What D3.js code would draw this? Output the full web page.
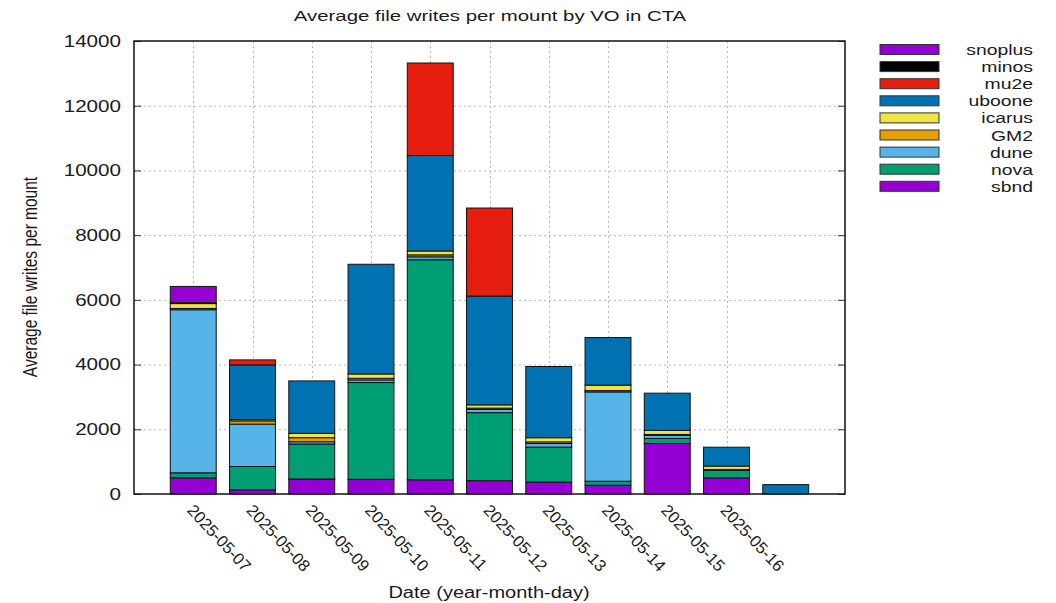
<!DOCTYPE html>
<html>
<head>
<meta charset="utf-8">
<script src="https://cdn.jsdelivr.net/npm/d3@7"></script>
<style>
  body { margin: 0; background: #ffffff; }
  text { font-family: "Liberation Sans", Arial, Helvetica, sans-serif; fill: #1a1a1a; }
</style>
</head>
<body>
<svg id="chart" width="1056" height="603"></svg>
<script>
// Dates shown under the first ten bars
const tickLabels = ["2025-05-07", "2025-05-08", "2025-05-09", "2025-05-10", "2025-05-11",
                    "2025-05-12", "2025-05-13", "2025-05-14", "2025-05-15", "2025-05-16"];

// Average file writes per mount, one value per bar (11 bars), per VO
const sbnd    = [500, 130, 465, 455, 440, 414, 370, 270, 1560, 500, 0];
const nova    = [155, 720, 1080, 2990, 6800, 2100, 1080, 125, 156, 229, 0];
const dune    = [5040, 1310, 70, 80, 90, 100, 110, 2760, 95, 0, 0];
const gm2     = [40, 100, 125, 50, 60, 40, 50, 40, 30, 30, 0];
const icarus  = [150, 40, 135, 135, 120, 100, 130, 170, 125, 104, 0];
const uboone  = [0, 1690, 1620, 3390, 2950, 3363, 2200, 1470, 1150, 583, 290];
const mu2e    = [0, 155, 0, 0, 2860, 2721, 0, 0, 0, 0, 0];
const minos   = [30, 0, 0, 0, 0, 0, 0, 0, 0, 0, 0];
const snoplus = [500, 0, 0, 0, 0, 0, 0, 0, 0, 0, 0];

// Stack order, bottom to top
const seriesNames  = ["sbnd", "nova", "dune", "GM2", "icarus", "uboone", "mu2e", "minos", "snoplus"];
const seriesValues = [sbnd, nova, dune, gm2, icarus, uboone, mu2e, minos, snoplus];
const seriesColors = ["#9400d3", "#009e73", "#56b4e9", "#e69f00", "#f0e442", "#0072b2", "#e51e10", "#000000", "#9400d3"];

const yTicks = [0, 2000, 4000, 6000, 8000, 10000, 12000, 14000];

const plot = { left: 134, right: 845, top: 41, bottom: 494 };
const WIDE = 1.25; // horizontal stretch applied to upright text

const svg = d3.select("#chart");

const x = d3.scaleLinear().domain([-1, 11]).range([plot.left, plot.right]);
const y = d3.scaleLinear().domain([0, 14000]).range([plot.bottom, plot.top]);
const barW = (x(1) - x(0)) * 0.775;

// rows for d3.stack
const rows = sbnd.map((_, i) => {
  const r = { idx: i };
  seriesNames.forEach((n, k) => { r[n] = seriesValues[k][i]; });
  return r;
});
const stacked = d3.stack().keys(seriesNames)(rows);

// grid lines
const grid = svg.append("g").attr("stroke", "#b8b8b8").attr("stroke-width", 1)
  .attr("stroke-dasharray", "2,3");
grid.selectAll("line.h").data(yTicks.filter(v => v > 0 && v < 14000)).join("line")
  .attr("x1", plot.left).attr("x2", plot.right)
  .attr("y1", d => y(d) + 0.5).attr("y2", d => y(d) + 0.5);
grid.selectAll("line.v").data(tickLabels.map((_, i) => i)).join("line")
  .attr("x1", d => Math.round(x(d)) + 0.5).attr("x2", d => Math.round(x(d)) + 0.5)
  .attr("y1", plot.top).attr("y2", plot.bottom);

// stacked bars
const layers = svg.append("g").selectAll("g").data(stacked).join("g")
  .attr("fill", (d, k) => seriesColors[k]);
layers.selectAll("rect").data(d => d.filter(p => p[1] - p[0] > 0)).join("rect")
  .attr("x", p => x(p.data.idx) - barW / 2)
  .attr("width", barW)
  .attr("y", p => y(p[1]))
  .attr("height", p => y(p[0]) - y(p[1]))
  .attr("stroke", "#111")
  .attr("stroke-width", 1);

// y axes (left with labels, right mirrored ticks)
const yAxis = svg.append("g").attr("transform", `translate(${plot.left},0)`)
  .call(d3.axisLeft(y).tickValues(yTicks).tickSize(-7).tickPadding(13).tickFormat(d3.format("d")));
yAxis.select(".domain").remove();
yAxis.selectAll("line").attr("stroke", "#333");
yAxis.selectAll("text")
  .attr("x", 0)
  .attr("transform", "translate(-13,0) scale(" + WIDE + ",1)")
  .style("font-size", "16.5px");

const yAxisR = svg.append("g").attr("transform", `translate(${plot.right},0)`)
  .call(d3.axisRight(y).tickValues(yTicks).tickSize(-7).tickFormat(""));
yAxisR.select(".domain").remove();
yAxisR.selectAll("line").attr("stroke", "#333");

// x tick labels, rotated
svg.append("g").selectAll("text").data(tickLabels).join("text")
  .attr("transform", (d, i) => `translate(${x(i) - 7},${511}) rotate(47)`)
  .style("font-size", "16.5px")
  .text(d => d);

// frame
svg.append("rect")
  .attr("x", plot.left).attr("y", plot.top)
  .attr("width", plot.right - plot.left).attr("height", plot.bottom - plot.top)
  .attr("fill", "none").attr("stroke", "#111").attr("stroke-width", 1.5);

// titles
svg.append("text")
  .attr("transform", `translate(490,21) scale(1.36,1)`)
  .attr("text-anchor", "middle").style("font-size", "15px")
  .text("Average file writes per mount by VO in CTA");

svg.append("text")
  .attr("transform", `translate(489,598) scale(${WIDE},1)`)
  .attr("text-anchor", "middle").style("font-size", "16px")
  .text("Date (year-month-day)");

svg.append("text")
  .attr("transform", `translate(37,277) scale(${WIDE},1) rotate(-90)`)
  .attr("text-anchor", "middle").style("font-size", "15.5px")
  .text("Average file writes per mount");

// legend, top entry is the top of the stack
const legendOrder = seriesNames.map((n, k) => k).reverse();
const legend = svg.append("g").selectAll("g").data(legendOrder).join("g")
  .attr("transform", (k, j) => `translate(0,${49.5 + j * 17.1})`);
legend.append("rect")
  .attr("x", 880).attr("y", -5).attr("width", 59).attr("height", 10)
  .attr("fill", k => seriesColors[k]).attr("stroke", "#333").attr("stroke-width", 1);
legend.append("text")
  .attr("transform", `translate(1033,5.5) scale(${WIDE},1)`)
  .attr("text-anchor", "end").style("font-size", "15.5px")
  .text(k => seriesNames[k]);
</script>
</body>
</html>
